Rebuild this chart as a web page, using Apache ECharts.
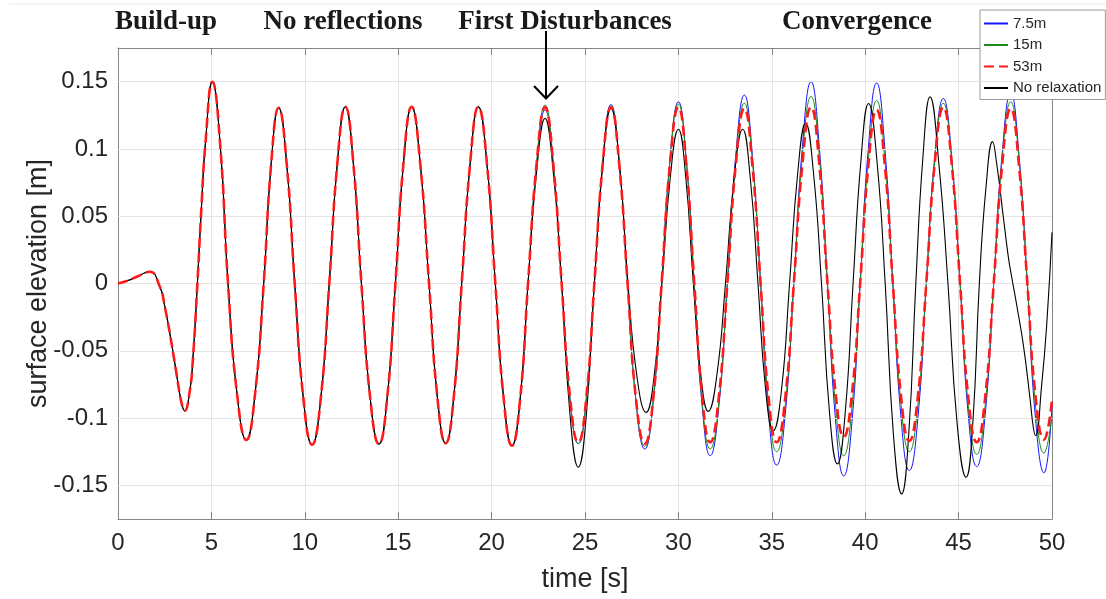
<!DOCTYPE html>
<html>
<head>
<meta charset="utf-8">
<script src="https://cdn.jsdelivr.net/npm/echarts@6/dist/echarts.min.js"></script>
<style>
  html, body { margin: 0; padding: 0; background: #ffffff; }
  #chart { width: 1106px; height: 599px; }
</style>
</head>
<body>
<div id="chart"></div>
<script>
// Run names (relaxation-zone lengths) and phase headings
const seriesNames = ['7.5m', '15m', '53m', 'No relaxation'];
const phaseLabels = ['Build-up', 'No reflections', 'First Disturbances', 'Convergence'];

// Axis ranges and tick values
const timeRange = [0, 50];
const timeStep = 5;
const etaRange = [-0.175, 0.175];
const etaTicks = [-0.15, -0.1, -0.05, 0, 0.05, 0.1, 0.15];

// Record common to all four runs until the first disturbance (t <= 21.09 s)
const sharedTime = [
  0.00, 0.50, 1.00, 1.70, 2.23, 2.50, 2.86, 3.12, 3.39, 3.57,
  3.84, 4.01, 4.25, 4.46, 4.68, 5.05, 5.47, 5.89, 6.38, 6.87,
  7.33, 7.80, 8.20, 8.60, 9.03, 9.46, 9.92, 10.39, 10.85, 11.31,
  11.74, 12.17, 12.60, 13.03, 13.50, 13.97, 14.41, 14.85, 15.28, 15.72,
  16.18, 16.65, 17.10, 17.54, 17.97, 18.40, 18.85, 19.29, 19.75, 20.20,
  20.65, 21.09
];
const sharedEta = [
  0.0000, 0.0020, 0.0050, 0.0087, -0.0020, -0.0168, -0.0440, -0.0660, -0.0880, -0.0946,
  -0.0800, -0.0560, 0.0000, 0.0550, 0.1040, 0.1499, 0.1030, 0.0000, -0.0830, -0.1163,
  -0.0830, 0.0000, 0.0890, 0.1306, 0.0890, 0.0000, -0.0850, -0.1198, -0.0860, 0.0000,
  0.0890, 0.1313, 0.0890, 0.0000, -0.0850, -0.1193, -0.0850, 0.0000, 0.0890, 0.1313,
  0.0890, 0.0000, -0.0850, -0.1188, -0.0850, 0.0000, 0.0890, 0.1313, 0.0890, 0.0000,
  -0.0860, -0.1205
];

// Time stamps after 21.09 s for the three relaxation-zone runs
const relaxTime = [
  21.52, 21.95, 22.41, 22.86, 23.30, 23.75, 24.20, 24.64,
  25.07, 25.50, 25.95, 26.39, 26.83, 27.28, 27.73, 28.20,
  28.65, 29.10, 29.55, 30.00, 30.42, 30.85, 31.28, 31.70,
  32.16, 32.62, 33.07, 33.53, 33.96, 34.40, 34.83, 35.26,
  35.72, 36.18, 36.64, 37.10, 37.54, 37.98, 38.42, 38.85,
  39.29, 39.73, 40.17, 40.61, 41.05, 41.48, 41.92, 42.36,
  42.82, 43.27, 43.72, 44.18, 44.63, 45.08, 45.52, 45.97,
  46.42, 46.88, 47.33, 47.79, 48.23, 48.68, 49.12, 49.57,
  50.00
];
const eta7_5m = [
  -0.087, 0, 0.088, 0.129, 0.088, 0, -0.086, -0.119,
  -0.086, 0, 0.090, 0.133, 0.090, 0, -0.088, -0.123,
  -0.088, 0, 0.092, 0.135, 0.092, 0, -0.092, -0.128,
  -0.092, 0, 0.095, 0.140, 0.095, 0, -0.097, -0.135,
  -0.097, 0, 0.102, 0.150, 0.102, 0, -0.103, -0.143,
  -0.103, 0, 0.101, 0.149, 0.101, 0, -0.100, -0.139,
  -0.100, 0, 0.094, 0.1375, 0.094, 0, -0.098, -0.136,
  -0.098, 0, 0.096, 0.1417, 0.096, 0, -0.101, -0.1407,
  -0.091
];
const eta15m = [
  -0.087, 0, 0.090, 0.1326, 0.090, 0, -0.086, -0.119,
  -0.086, 0, 0.090, 0.132, 0.090, 0, -0.087, -0.121,
  -0.087, 0, 0.091, 0.1333, 0.091, 0, -0.089, -0.123,
  -0.089, 0, 0.091, 0.134, 0.091, 0, -0.090, -0.125,
  -0.090, 0, 0.095, 0.139, 0.095, 0, -0.092, -0.128,
  -0.092, 0, 0.092, 0.136, 0.092, 0, -0.090, -0.125,
  -0.090, 0, 0.091, 0.134, 0.091, 0, -0.091, -0.127,
  -0.091, 0, 0.092, 0.135, 0.092, 0, -0.091, -0.126,
  -0.098
];
const eta53m = [
  -0.087, 0, 0.089, 0.131, 0.089, 0, -0.085, -0.118,
  -0.085, 0, 0.089, 0.131, 0.089, 0, -0.086, -0.119,
  -0.086, 0, 0.089, 0.131, 0.089, 0, -0.085, -0.118,
  -0.085, 0, 0.088, 0.130, 0.088, 0, -0.085, -0.118,
  -0.085, 0, 0.089, 0.131, 0.089, 0, -0.082, -0.114,
  -0.082, 0, 0.088, 0.129, 0.088, 0, -0.084, -0.117,
  -0.084, 0, 0.089, 0.131, 0.089, 0, -0.085, -0.118,
  -0.085, 0, 0.088, 0.130, 0.088, 0, -0.084, -0.116,
  -0.087
];

// Run without relaxation zone, after 21.09 s
const noRelaxTime = [
  21.52, 21.95, 22.41, 22.86, 23.30, 23.75, 24.20, 24.64,
  25.07, 25.50, 25.95, 26.39, 26.85, 27.30, 27.78, 28.27,
  28.70, 29.12, 29.56, 30.00, 30.40, 30.80, 31.20, 31.60,
  32.06, 32.52, 32.98, 33.44, 33.85, 34.26, 34.67, 35.08,
  35.52, 35.95, 36.38, 36.81, 37.24, 37.66, 38.09, 38.51,
  38.93, 39.35, 39.77, 40.18, 40.63, 41.07, 41.51, 41.95,
  42.33, 42.71, 43.09, 43.47, 43.95, 44.43, 44.92, 45.40,
  45.76, 46.11, 46.47, 46.82, 47.04, 47.39, 47.66, 47.84,
  48.11, 48.47, 48.82, 49.00, 49.12, 49.45, 49.72, 50.00
];
const noRelaxEta = [
  -0.087, 0, 0.083, 0.1227, 0.083, 0, -0.098, -0.1365,
  -0.098, 0, 0.088, 0.130, 0.088, 0, -0.069, -0.0958,
  -0.069, 0, 0.078, 0.1146, 0.078, 0, -0.068, -0.095,
  -0.068, 0, 0.078, 0.1146, 0.078, 0, -0.079, -0.1094,
  -0.079, 0, 0.081, 0.119, 0.081, 0, -0.096, -0.134,
  -0.096, 0, 0.091, 0.1338, 0.091, 0, -0.112, -0.1563,
  -0.112, 0, 0.094, 0.1388, 0.088, 0, -0.104, -0.144,
  -0.104, 0, 0.072, 0.1054, 0.089, 0.050, 0.020, 0.005,
  -0.016, -0.046, -0.085, -0.107, -0.113, -0.075, -0.030, 0.038
];

// ---- assemble [t, eta] pairs ----
const toPairs = (ts, vs) => ts.map((t, i) => [t, vs[i]]);
const shared = toPairs(sharedTime, sharedEta);
const runData = [
  shared.concat(toPairs(relaxTime, eta7_5m)),
  shared.concat(toPairs(relaxTime, eta15m)),
  shared.concat(toPairs(relaxTime, eta53m)),
  shared.concat(toPairs(noRelaxTime, noRelaxEta))
];

const AXIS_GRAY = '#858585';
const TEXT_DARK = '#262626';
const GRID_GRAY = '#e4e4e4';
const SANS = '"Liberation Sans", Arial, sans-serif';
const SERIF = '"Liberation Serif", "DejaVu Serif", serif';

const runStyles = [
  { color: '#1414ff', width: 1, type: 'solid', z: 3 },
  { color: '#1e8a1e', width: 1, type: 'solid', z: 4 },
  { color: '#ff1a1a', width: 2.6, type: [10, 5], z: 6 },
  { color: '#000000', width: 1.1, type: 'solid', z: 5 }
];

const chart = echarts.init(document.getElementById('chart'), null, { renderer: 'canvas' });

const lineSeries = seriesNames.map((name, i) => ({
  name: name,
  type: 'line',
  xAxisIndex: 0,
  yAxisIndex: 0,
  data: runData[i],
  smooth: 0.5,
  symbol: 'none',
  showSymbol: false,
  z: runStyles[i].z,
  animation: false,
  lineStyle: { color: runStyles[i].color, width: runStyles[i].width, type: runStyles[i].type },
  itemStyle: { color: runStyles[i].color }
}));

// horizontal grid lines at the elevation ticks
const gridSeries = {
  name: 'grid',
  type: 'line',
  data: [],
  z: 1,
  silent: true,
  animation: false,
  markLine: {
    silent: true,
    symbol: 'none',
    animation: false,
    label: { show: false },
    lineStyle: { color: GRID_GRAY, width: 1, type: 'solid' },
    data: etaTicks.map(v => ({ yAxis: v }))
  }
};

const headingFont = 'bold 27px ' + SERIF;
const heading = (text, x) => ({
  type: 'text', x: x, y: 22, silent: true,
  style: { text: text, font: headingFont, fill: '#1a1a1a', textAlign: 'center', textVerticalAlign: 'middle' }
});

const option = {
  backgroundColor: '#ffffff',
  animation: false,
  grid: { left: 118, right: 54, top: 48, bottom: 80, containLabel: false },
  legend: {
    data: seriesNames,
    orient: 'vertical',
    left: 980,
    top: 10,
    padding: [6, 4, 4, 3],
    itemWidth: 24,
    itemHeight: 14,
    itemGap: 6.5,
    backgroundColor: '#ffffff',
    borderColor: '#9a9a9a',
    borderWidth: 1,
    borderRadius: 0,
    // line-only keys: hide the marker drawn in the middle of each key
    itemStyle: { color: 'rgba(0,0,0,0)', borderWidth: 0, opacity: 0 },
    textStyle: { fontFamily: SANS, fontSize: 15, color: TEXT_DARK }
  },
  xAxis: [
    {
      type: 'value',
      position: 'bottom',
      min: timeRange[0], max: timeRange[1], interval: timeStep,
      name: 'time [s]',
      nameLocation: 'middle',
      nameGap: 47,
      nameTextStyle: { fontFamily: SANS, fontSize: 27, color: TEXT_DARK },
      axisLine: { show: true, onZero: false, lineStyle: { color: AXIS_GRAY, width: 1 } },
      axisTick: { show: true, inside: true, length: 7, lineStyle: { color: AXIS_GRAY } },
      axisLabel: { fontFamily: SANS, fontSize: 24, color: TEXT_DARK, margin: 12 },
      splitLine: { show: true, lineStyle: { color: GRID_GRAY, width: 1 } }
    },
    {
      type: 'value',
      position: 'top',
      min: timeRange[0], max: timeRange[1], interval: timeStep,
      axisLine: { show: true, onZero: false, lineStyle: { color: AXIS_GRAY, width: 1 } },
      axisTick: { show: true, inside: true, length: 7, lineStyle: { color: AXIS_GRAY } },
      axisLabel: { show: false },
      splitLine: { show: false }
    }
  ],
  yAxis: [
    {
      type: 'value',
      position: 'left',
      min: etaRange[0], max: etaRange[1],
      name: 'surface elevation [m]',
      nameLocation: 'middle',
      nameGap: 66,
      nameMoveOverlap: false,
      nameTextStyle: { fontFamily: SANS, fontSize: 27, color: TEXT_DARK },
      axisLine: { show: true, onZero: false, lineStyle: { color: AXIS_GRAY, width: 1 } },
      axisTick: { show: true, inside: true, length: 7, customValues: etaTicks, lineStyle: { color: AXIS_GRAY } },
      axisLabel: {
        fontFamily: SANS, fontSize: 24, color: TEXT_DARK, margin: 10,
        customValues: etaTicks,
        formatter: v => String(+v.toFixed(3))
      },
      splitLine: { show: false }
    },
    {
      type: 'value',
      position: 'right',
      min: etaRange[0], max: etaRange[1],
      axisLine: { show: true, onZero: false, lineStyle: { color: AXIS_GRAY, width: 1 } },
      axisTick: { show: true, inside: true, length: 7, customValues: etaTicks, lineStyle: { color: AXIS_GRAY } },
      axisLabel: { show: false },
      splitLine: { show: false }
    }
  ],
  series: [gridSeries].concat(lineSeries),
  graphic: [
    // faint rule along the top edge
    { type: 'line', silent: true, z: 1,
      shape: { x1: 9, y1: 4, x2: 1106, y2: 4 },
      style: { stroke: '#ececec', lineWidth: 1 } },
    // phase headings
    heading(phaseLabels[0], 166),
    heading(phaseLabels[1], 343),
    heading(phaseLabels[2], 565),
    heading(phaseLabels[3], 857),
    // arrow to the first disturbed crest
    { type: 'line', silent: true, z: 10,
      shape: { x1: 546, y1: 31, x2: 546, y2: 98 },
      style: { stroke: '#000000', lineWidth: 2 } },
    { type: 'polyline', silent: true, z: 10,
      shape: { points: [[534, 86], [546, 98.5], [558, 86]] },
      style: { stroke: '#000000', lineWidth: 2, fill: null } }
  ]
};

chart.setOption(option);
</script>
</body>
</html>
